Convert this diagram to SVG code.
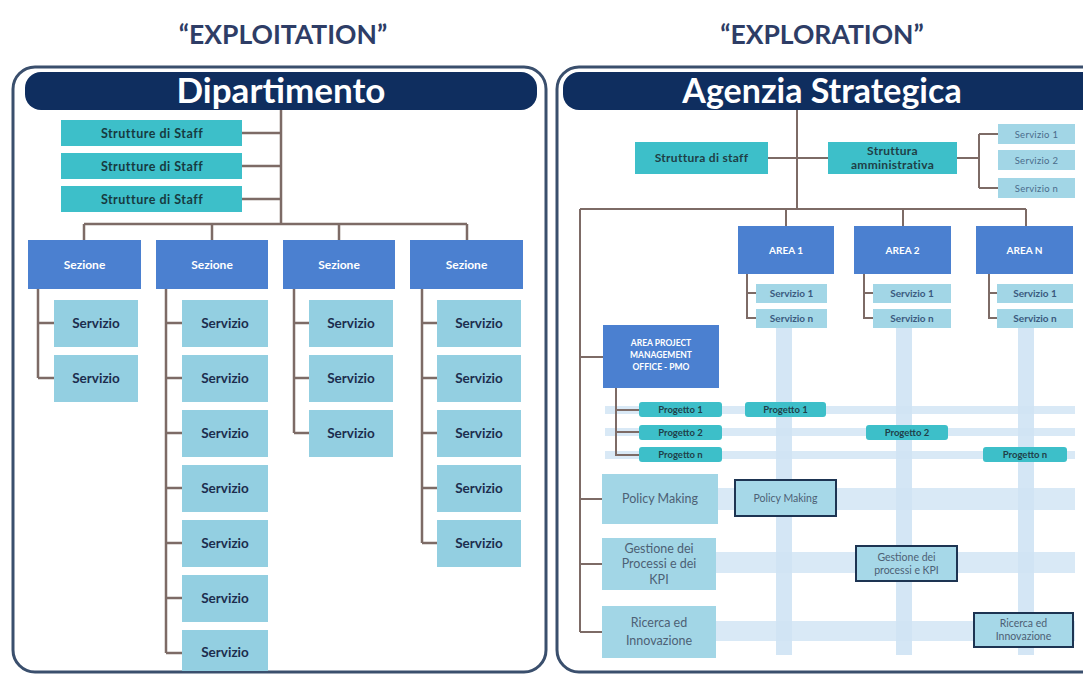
<svg xmlns="http://www.w3.org/2000/svg" width="1083" height="677" viewBox="0 0 1083 677">
<style>
text{font-family:Lato,"Open Sans","Liberation Sans",sans-serif;text-anchor:middle;font-weight:bold}
.title{font-size:26.5px;fill:#2e3d66}
.head{fill:#ffffff}
.panel{fill:#ffffff;stroke:#3a4f6d;stroke-width:3}
.hdr{fill:#0f2e5f}
.teal{fill:#3dbfc9}
.blue{fill:#4b80d0}
.lb{fill:#93cfe1}
.lb2{fill:#a2d6e6}
.dup{fill:#a6d8e8;stroke:#1d3452;stroke-width:2}
.t-staff{font-size:12.5px;fill:#173a40;letter-spacing:0.5px}
.t-sez{font-size:12px;fill:#ffffff}
.t-serv{font-size:13.5px;fill:#1c2d4d}
.t-s{font-size:12px;fill:#1f4046;letter-spacing:0.3px}
.t-sm{font-size:9.5px;fill:#4a6c8c;font-weight:normal;letter-spacing:0.3px}
.t-area{font-size:10px;fill:#ffffff}
.t-as{font-size:10px;fill:#3a5a7e}
.t-apm{font-size:8.5px;fill:#ffffff}
.t-prog{font-size:9.5px;fill:#1f3f4a}
.t-pl{font-size:12.5px;fill:#4d6175;font-weight:normal}
.t-dp{font-size:10.5px;fill:#4d6175;font-weight:normal}
.conn{stroke:#7d6b66;stroke-width:2.5;fill:none}
.conn2{stroke:#7d6b66;stroke-width:2;fill:none}
.band{fill:#c6def2;opacity:0.75}
.bandh{fill:#cfe4f4;opacity:0.8}
</style>

<text class="title" x="283" y="44">“EXPLOITATION”</text>
<text class="title" x="822" y="44">“EXPLORATION”</text>

<!-- LEFT PANEL -->
<rect class="panel" x="13" y="67" width="533" height="605" rx="22"/>
<g id="dipartimento">
<rect class="hdr" x="25" y="72" width="512" height="38" rx="16"/>
<text class="head" x="281" y="103" style="font-size:35px">Dipartimento</text>
</g>

<g id="connectors-left">
<path class="conn" d="M281 110V224M242 133H281M242 166H281M242 199H281M84 224H467M84 224V240M212 224V240M339 224V240M467 224V240"/>
<path class="conn" d="M38 289V378M38 323H54M38 378H54"/>
<path class="conn" d="M166 289V653M166 323H182M166 378H182M166 433H182M166 488H182M166 543H182M166 598H182M166 653H182"/>
<path class="conn" d="M294 289V433M294 323H309M294 378H309M294 433H309"/>
<path class="conn" d="M422 289V543M422 323H437M422 378H437M422 433H437M422 488H437M422 543H437"/>
</g>

<g id="staff1"><rect class="teal" x="61" y="120" width="181" height="26"/><text class="t-staff" x="152" y="137.5">Strutture di Staff</text></g>
<g id="staff2"><rect class="teal" x="61" y="153" width="181" height="26"/><text class="t-staff" x="152" y="170.5">Strutture di Staff</text></g>
<g id="staff3"><rect class="teal" x="61" y="186" width="181" height="26"/><text class="t-staff" x="152" y="203.5">Strutture di Staff</text></g>

<g id="sez1"><rect class="blue" x="28" y="240" width="113" height="49"/><text class="t-sez" x="84.5" y="269">Sezione</text></g>
<g id="sez2"><rect class="blue" x="156" y="240" width="112" height="49"/><text class="t-sez" x="212" y="269">Sezione</text></g>
<g id="sez3"><rect class="blue" x="283" y="240" width="112" height="49"/><text class="t-sez" x="339" y="269">Sezione</text></g>
<g id="sez4"><rect class="blue" x="410" y="240" width="113" height="49"/><text class="t-sez" x="466.5" y="269">Sezione</text></g>

<g id="s1-1"><rect class="lb" x="54" y="300" width="84" height="47"/><text class="t-serv" x="96" y="328">Servizio</text></g>
<g id="s1-2"><rect class="lb" x="54" y="355" width="84" height="47"/><text class="t-serv" x="96" y="383">Servizio</text></g>

<g id="s2-1"><rect class="lb" x="182" y="300" width="86" height="47"/><text class="t-serv" x="225" y="328">Servizio</text></g>
<g id="s2-2"><rect class="lb" x="182" y="355" width="86" height="47"/><text class="t-serv" x="225" y="383">Servizio</text></g>
<g id="s2-3"><rect class="lb" x="182" y="410" width="86" height="47"/><text class="t-serv" x="225" y="438">Servizio</text></g>
<g id="s2-4"><rect class="lb" x="182" y="465" width="86" height="47"/><text class="t-serv" x="225" y="493">Servizio</text></g>
<g id="s2-5"><rect class="lb" x="182" y="520" width="86" height="47"/><text class="t-serv" x="225" y="548">Servizio</text></g>
<g id="s2-6"><rect class="lb" x="182" y="575" width="86" height="47"/><text class="t-serv" x="225" y="603">Servizio</text></g>
<g id="s2-7"><rect class="lb" x="182" y="630" width="86" height="41"/><text class="t-serv" x="225" y="657">Servizio</text></g>

<g id="s3-1"><rect class="lb" x="309" y="300" width="84" height="47"/><text class="t-serv" x="351" y="328">Servizio</text></g>
<g id="s3-2"><rect class="lb" x="309" y="355" width="84" height="47"/><text class="t-serv" x="351" y="383">Servizio</text></g>
<g id="s3-3"><rect class="lb" x="309" y="410" width="84" height="47"/><text class="t-serv" x="351" y="438">Servizio</text></g>

<g id="s4-1"><rect class="lb" x="437" y="300" width="84" height="47"/><text class="t-serv" x="479" y="328">Servizio</text></g>
<g id="s4-2"><rect class="lb" x="437" y="355" width="84" height="47"/><text class="t-serv" x="479" y="383">Servizio</text></g>
<g id="s4-3"><rect class="lb" x="437" y="410" width="84" height="47"/><text class="t-serv" x="479" y="438">Servizio</text></g>
<g id="s4-4"><rect class="lb" x="437" y="465" width="84" height="47"/><text class="t-serv" x="479" y="493">Servizio</text></g>
<g id="s4-5"><rect class="lb" x="437" y="520" width="84" height="47"/><text class="t-serv" x="479" y="548">Servizio</text></g>

<!-- RIGHT PANEL -->
<rect class="panel" x="557" y="67" width="560" height="605" rx="22"/>
<g id="agenzia">
<rect class="hdr" x="563" y="72" width="560" height="38" rx="16"/>
<text class="head" x="822" y="103" style="font-size:34px">Agenzia Strategica</text>
</g>

<g id="bands">
<rect class="band" x="776" y="328" width="16" height="327"/>
<rect class="band" x="896" y="328" width="16" height="327"/>
<rect class="band" x="1018" y="328" width="16" height="327"/>
<rect class="bandh" x="605" y="406" width="470" height="8"/>
<rect class="bandh" x="605" y="428" width="470" height="8"/>
<rect class="bandh" x="605" y="451" width="470" height="8"/>
<rect class="bandh" x="718" y="488" width="357" height="22"/>
<rect class="bandh" x="716" y="552" width="359" height="21"/>
<rect class="bandh" x="716" y="621" width="359" height="20"/>
</g>

<g id="connectors-right">
<path class="conn2" d="M797 110V209M768 158H828M957 158H979M979 134V188M979 134H998M979 188H998"/>
<path class="conn2" d="M580 209H1026M786 209V226M903 209V226M1026 209V226"/>
<path class="conn2" d="M747 274V318H756M747 293H756M864 274V318H873M864 293H873M989 274V318H997M989 293H997"/>
<path class="conn2" d="M580 209V632M580 357H603M580 499H602M580 564H602M580 632H602"/>
<path class="conn2" d="M616 388V455H639M616 410H639M616 432H639"/>
</g>

<g id="staff-r"><rect class="teal" x="635" y="142" width="133" height="32"/><text class="t-s" x="701.5" y="162">Struttura di staff</text></g>
<g id="amm"><rect class="teal" x="828" y="142" width="129" height="32"/><text class="t-s" x="892.5" y="155">Struttura</text><text class="t-s" x="892.5" y="169">amministrativa</text></g>

<g id="rs1"><rect class="lb2" x="998" y="124" width="77" height="20"/><text class="t-sm" x="1036.5" y="137.5">Servizio 1</text></g>
<g id="rs2"><rect class="lb2" x="998" y="150" width="77" height="20"/><text class="t-sm" x="1036.5" y="163.5">Servizio 2</text></g>
<g id="rsn"><rect class="lb2" x="998" y="178" width="77" height="20"/><text class="t-sm" x="1036.5" y="191.5">Servizio n</text></g>

<g id="area1"><rect class="blue" x="738" y="226" width="96" height="48"/><text class="t-area" x="786" y="254">AREA 1</text></g>
<g id="area2"><rect class="blue" x="854" y="226" width="97" height="48"/><text class="t-area" x="902.5" y="254">AREA 2</text></g>
<g id="arean"><rect class="blue" x="976" y="226" width="97" height="48"/><text class="t-area" x="1024.5" y="254">AREA N</text></g>

<g id="a1s1"><rect class="lb2" x="756" y="284" width="71" height="19"/><text class="t-as" x="791.5" y="297">Servizio 1</text></g>
<g id="a1sn"><rect class="lb2" x="756" y="309" width="71" height="19"/><text class="t-as" x="791.5" y="322">Servizio n</text></g>
<g id="a2s1"><rect class="lb2" x="873" y="284" width="78" height="19"/><text class="t-as" x="912" y="297">Servizio 1</text></g>
<g id="a2sn"><rect class="lb2" x="873" y="309" width="78" height="19"/><text class="t-as" x="912" y="322">Servizio n</text></g>
<g id="a3s1"><rect class="lb2" x="997" y="284" width="76" height="19"/><text class="t-as" x="1035" y="297">Servizio 1</text></g>
<g id="a3sn"><rect class="lb2" x="997" y="309" width="76" height="19"/><text class="t-as" x="1035" y="322">Servizio n</text></g>

<g id="pmo"><rect class="blue" x="603" y="325" width="116" height="63"/>
<text class="t-apm" x="661" y="346">AREA PROJECT</text>
<text class="t-apm" x="661" y="358">MANAGEMENT</text>
<text class="t-apm" x="661" y="370">OFFICE - PMO</text></g>

<g id="p1"><rect class="teal" x="639" y="402" width="83" height="15" rx="3"/><text class="t-prog" x="680.5" y="413">Progetto 1</text></g>
<g id="p2"><rect class="teal" x="639" y="425" width="83" height="15" rx="3"/><text class="t-prog" x="680.5" y="436">Progetto 2</text></g>
<g id="pn"><rect class="teal" x="639" y="447" width="83" height="15" rx="3"/><text class="t-prog" x="680.5" y="458">Progetto n</text></g>
<g id="p1d"><rect class="teal" x="745" y="402" width="81" height="15" rx="3"/><text class="t-prog" x="785.5" y="413">Progetto 1</text></g>
<g id="p2d"><rect class="teal" x="866" y="425" width="82" height="15" rx="3"/><text class="t-prog" x="907" y="436">Progetto 2</text></g>
<g id="pnd"><rect class="teal" x="983" y="447" width="84" height="15" rx="3"/><text class="t-prog" x="1025" y="458">Progetto n</text></g>

<g id="policy"><rect class="lb2" x="602" y="474" width="116" height="50"/><text class="t-pl" x="660" y="503">Policy Making</text></g>
<g id="policy-d"><rect class="dup" x="735" y="480" width="101" height="36"/><text class="t-dp" x="785.5" y="502">Policy Making</text></g>

<g id="gestione"><rect class="lb2" x="602" y="538" width="114" height="52"/>
<text class="t-pl" x="659" y="553">Gestione dei</text><text class="t-pl" x="659" y="568">Processi e dei</text><text class="t-pl" x="659" y="584">KPI</text></g>
<g id="gestione-d"><rect class="dup" x="856" y="546" width="101" height="35"/>
<text class="t-dp" x="906.5" y="561">Gestione dei</text><text class="t-dp" x="906.5" y="574">processi e KPI</text></g>

<g id="ricerca"><rect class="lb2" x="602" y="606" width="114" height="52"/>
<text class="t-pl" x="659" y="627">Ricerca ed</text><text class="t-pl" x="659" y="645">Innovazione</text></g>
<g id="ricerca-d"><rect class="dup" x="974" y="613" width="99" height="34"/>
<text class="t-dp" x="1023.5" y="627">Ricerca ed</text><text class="t-dp" x="1023.5" y="640">Innovazione</text></g>
</svg>
